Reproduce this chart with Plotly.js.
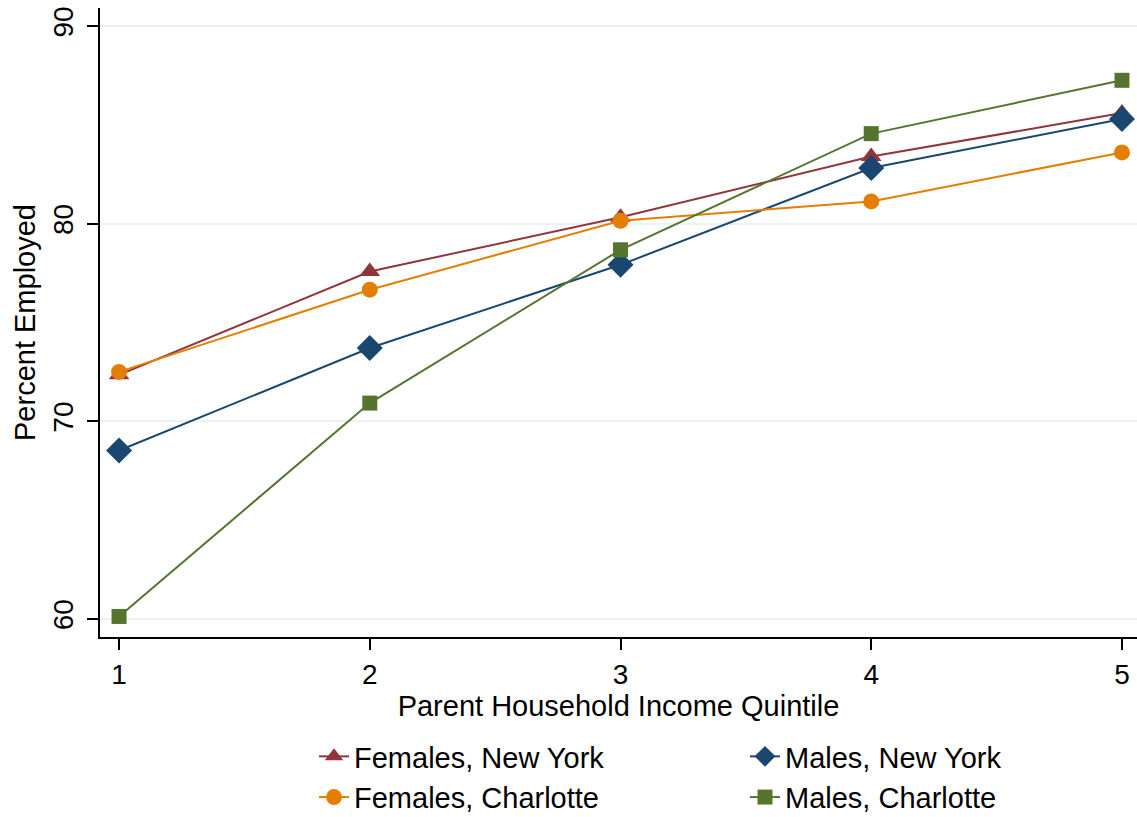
<!DOCTYPE html>
<html>
<head>
<meta charset="utf-8">
<script src="https://cdn.plot.ly/plotly-3.0.1.min.js"></script>
<style>html,body{margin:0;padding:0;background:#fff;}#chart{width:1137px;height:817px;}</style>
</head>
<body>
<div id="chart"></div>
<script>
const quintiles = [1, 2, 3, 4, 5];
const femalesNewYork = [72.35, 77.58, 80.33, 83.40, 85.60];
const malesNewYork = [68.52, 73.71, 77.92, 82.82, 85.30];
const femalesCharlotte = [72.50, 76.66, 80.15, 81.13, 83.61];
const malesCharlotte = [60.12, 70.92, 78.68, 84.56, 87.26];
const seriesNames = ["Females, New York", "Males, New York", "Females, Charlotte", "Males, Charlotte"];
const xTicks = [1, 2, 3, 4, 5];
const yTicks = [60, 70, 80, 90];

const FONT = '"Liberation Sans", Arial, Helvetica, sans-serif';
function tr(name, y, color, symbol, size) {
  return {
    x: quintiles, y: y, name: name, type: 'scatter', mode: 'lines+markers',
    line: {color: color, width: 2},
    marker: {color: color, symbol: symbol, size: size, line: {width: 0}}
  };
}
const data = [
  tr(seriesNames[0], femalesNewYork, '#90353b', 'triangle-up', 18),
  tr(seriesNames[1], malesNewYork, '#1a476f', 'diamond', 20),
  tr(seriesNames[2], femalesCharlotte, '#e37e00', 'circle', 16),
  tr(seriesNames[3], malesCharlotte, '#55752f', 'square', 15)
];
const layout = {
  width: 1137, height: 817,
  margin: {l: 100, r: 0, t: 8, b: 180},
  paper_bgcolor: '#ffffff', plot_bgcolor: '#ffffff',
  font: {family: FONT, color: '#000', size: 28},
  showlegend: true,
  legend: {
    orientation: 'h', xref: 'container', yref: 'container',
    x: 314 / 1137, xanchor: 'left', y: 1 - 731 / 817, yanchor: 'top',
    font: {family: FONT, size: 29, color: '#000'},
    entrywidth: 386, entrywidthmode: 'pixels', traceorder: 'normal',
    bgcolor: 'rgba(0,0,0,0)'
  },
  xaxis: {
    range: [0.924, 5.06], tickvals: xTicks, ticktext: xTicks.map(String),
    showgrid: false, zeroline: false, showline: true, linecolor: '#000', linewidth: 2,
    ticks: 'outside', ticklen: 11, tickwidth: 2, tickcolor: '#000',
    tickfont: {family: FONT, size: 28, color: '#000'},
    title: {text: 'Parent Household Income Quintile', font: {family: FONT, size: 29, color: '#000'}, standoff: 7}
  },
  yaxis: {
    range: [59.08, 90.92], tickvals: yTicks, ticktext: yTicks.map(String), tickangle: -90,
    showgrid: true, gridcolor: '#eaf2f3', gridwidth: 2, zeroline: false,
    showline: true, linecolor: '#000', linewidth: 2,
    ticks: 'outside', ticklen: 11, tickwidth: 2, tickcolor: '#000', ticklabelstandoff: 3,
    tickfont: {family: FONT, size: 28, color: '#000'},
    title: {text: 'Percent Employed', font: {family: FONT, size: 29, color: '#000'}, standoff: 4}
  }
};
Plotly.newPlot('chart', data, layout, {displayModeBar: false, staticPlot: true});
</script>
</body>
</html>
